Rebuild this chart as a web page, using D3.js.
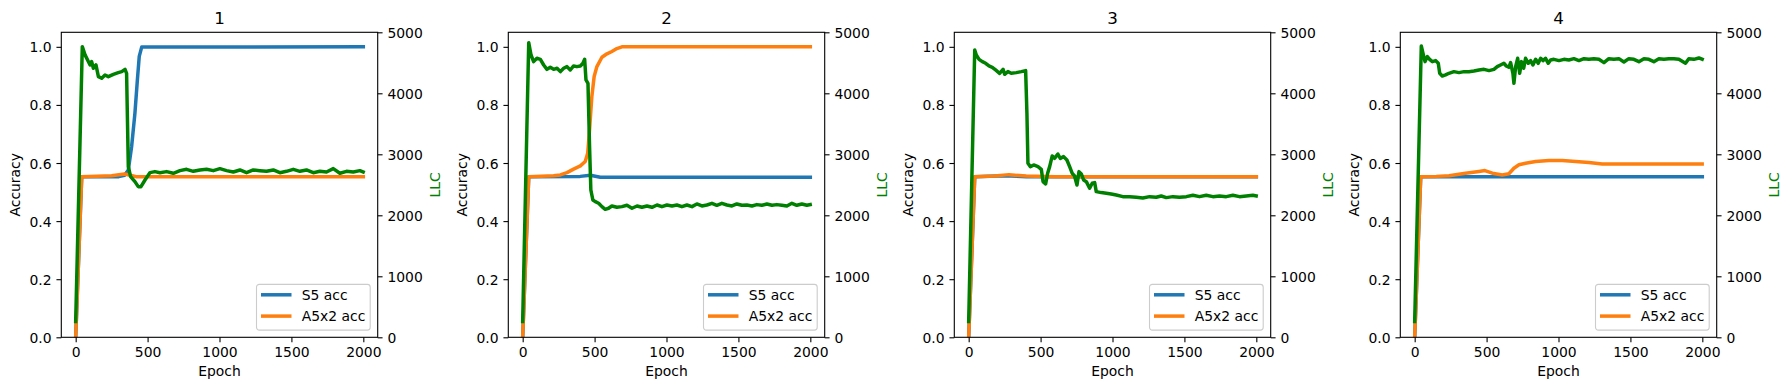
<!DOCTYPE html>
<html>
<head>
<meta charset="utf-8">
<script src="https://cdn.jsdelivr.net/npm/d3@7/dist/d3.min.js"></script>
<style>
  html, body { margin: 0; padding: 0; background: #fff; }
  svg { display: block; font-family: "DejaVu Sans", sans-serif; }
</style>
</head>
<body>
<svg id="chart" width="1790" height="390"></svg>
<script>
// ---------- data ----------
const panelTitles = ["1", "2", "3", "4"];
const epochTicks = [0, 500, 1000, 1500, 2000];
const accTicks = [0, 0.2, 0.4, 0.6, 0.8, 1.0];
const llcTicks = [0, 1000, 2000, 3000, 4000, 5000];
const seriesNames = ["S5 acc", "A5x2 acc"];

// Panel 1
const s5Acc1 = [[0,0],[42,0.553],[300,0.553],[340,0.558],[366,0.576],[389,0.657],[412,0.772],[429,0.886],[442,0.967],[459,0.999],[2000,1.0]];
const a5Acc1 = [[0,0],[42,0.553],[250,0.556],[340,0.562],[380,0.558],[420,0.553],[2000,0.553]];
const llc1 = [[0,260],[46,4765],[65,4630],[88,4520],[100,4465],[111,4520],[123,4410],[141,4465],[158,4273],[181,4246],[204,4300],[227,4273],[262,4311],[296,4339],[320,4355],[343,4393],[354,4328],[366,2798],[382,2634],[412,2552],[435,2470],[454,2470],[482,2579],[517,2700],[551,2716],[586,2699],[632,2716],[679,2689],[725,2732],[771,2754],[818,2721],[864,2743],[910,2754],[957,2732],[1003,2765],[1049,2732],[1096,2710],[1142,2743],[1188,2699],[1235,2743],[1281,2732],[1327,2721],[1374,2743],[1420,2699],[1466,2721],[1513,2754],[1559,2721],[1605,2743],[1652,2699],[1698,2721],[1744,2710],[1791,2765],[1837,2689],[1883,2721],[1930,2710],[1976,2732],[1999,2710]];

// Panel 2
const s5Acc2 = [[0,0],[42,0.553],[400,0.554],[470,0.558],[540,0.551],[2000,0.551]];
const a5Acc2 = [[0,0],[42,0.553],[215,0.556],[262,0.559],[308,0.567],[354,0.579],[401,0.590],[435,0.605],[452,0.634],[465,0.714],[481,0.829],[497,0.898],[516,0.932],[551,0.964],[586,0.976],[620,0.984],[655,0.994],[690,1.0],[2000,1.0]];
const llc2 = [[0,260],[42,4830],[58,4628],[76,4519],[99,4574],[123,4557],[146,4464],[169,4393],[192,4426],[215,4393],[239,4410],[262,4355],[285,4410],[308,4437],[331,4382],[354,4448],[377,4437],[401,4448],[419,4492],[431,4557],[440,4219],[454,4164],[465,3126],[474,2415],[488,2251],[505,2224],[528,2197],[551,2142],[574,2098],[597,2115],[620,2153],[655,2131],[690,2142],[725,2164],[760,2115],[795,2153],[829,2131],[864,2153],[899,2131],[934,2169],[968,2142],[1003,2169],[1038,2153],[1072,2169],[1107,2142],[1142,2169],[1177,2142],[1211,2186],[1246,2153],[1281,2169],[1316,2197],[1350,2164],[1385,2197],[1420,2169],[1455,2153],[1489,2186],[1524,2164],[1559,2169],[1594,2153],[1628,2175],[1663,2164],[1698,2186],[1733,2164],[1767,2175],[1802,2164],[1837,2153],[1872,2197],[1906,2164],[1941,2186],[1976,2164],[1999,2175]];

// Panel 3
const s5Acc3 = [[0,0],[42,0.553],[250,0.556],[400,0.553],[2000,0.553]];
const a5Acc3 = [[0,0],[42,0.553],[180,0.555],[280,0.560],[400,0.555],[600,0.553],[2000,0.553]];
const llc3 = [[0,260],[42,4710],[53,4628],[72,4557],[95,4519],[118,4492],[141,4448],[164,4426],[187,4383],[215,4328],[239,4393],[250,4311],[273,4355],[296,4328],[331,4339],[366,4355],[396,4372],[405,3672],[412,2852],[429,2798],[452,2825],[482,2798],[505,2754],[517,2552],[535,2514],[549,2689],[563,2798],[581,2973],[597,2934],[620,3005],[637,2934],[660,2962],[683,2907],[702,2798],[720,2689],[736,2645],[753,2497],[767,2716],[783,2678],[799,2579],[818,2552],[841,2443],[859,2525],[876,2536],[887,2388],[922,2372],[957,2361],[991,2350],[1026,2333],[1072,2306],[1119,2306],[1165,2295],[1211,2284],[1258,2306],[1304,2295],[1339,2317],[1374,2290],[1420,2306],[1466,2295],[1513,2306],[1559,2328],[1605,2306],[1652,2328],[1698,2306],[1744,2317],[1791,2306],[1837,2328],[1883,2306],[1930,2317],[1976,2328],[1999,2317]];

// Panel 4
const s5Acc4 = [[0,0],[42,0.553],[2000,0.553]];
const a5Acc4 = [[0,0],[42,0.553],[150,0.554],[239,0.556],[354,0.565],[447,0.571],[488,0.574],[540,0.565],[609,0.559],[655,0.563],[690,0.582],[725,0.594],[771,0.599],[841,0.605],[933,0.609],[1026,0.609],[1119,0.605],[1211,0.602],[1304,0.597],[1513,0.597],[1744,0.597],[1999,0.597]];
const llc4 = [[0,260],[46,4776],[58,4656],[72,4519],[88,4601],[104,4557],[123,4519],[146,4536],[164,4492],[174,4328],[192,4284],[215,4301],[238,4328],[273,4355],[308,4339],[343,4355],[377,4355],[412,4366],[447,4383],[482,4393],[517,4372],[551,4393],[574,4437],[597,4464],[620,4492],[637,4448],[655,4426],[667,4503],[683,4328],[690,4164],[702,4437],[716,4574],[730,4328],[743,4519],[758,4410],[771,4574],[790,4492],[806,4536],[822,4464],[841,4557],[859,4492],[876,4574],[892,4536],[910,4574],[929,4492],[945,4546],[968,4557],[1003,4536],[1038,4557],[1072,4546],[1107,4568],[1142,4536],[1177,4568],[1211,4557],[1246,4568],[1281,4557],[1316,4503],[1350,4568],[1385,4557],[1420,4568],[1455,4514],[1489,4568],[1524,4557],[1559,4519],[1594,4568],[1628,4557],[1663,4519],[1698,4568],[1733,4557],[1767,4568],[1802,4568],[1837,4557],[1883,4492],[1906,4568],[1941,4557],[1976,4579],[1999,4557]];

const panels = [
  { title: panelTitles[0], s5: s5Acc1, a5: a5Acc1, llc: llc1 },
  { title: panelTitles[1], s5: s5Acc2, a5: a5Acc2, llc: llc2 },
  { title: panelTitles[2], s5: s5Acc3, a5: a5Acc3, llc: llc3 },
  { title: panelTitles[3], s5: s5Acc4, a5: a5Acc4, llc: llc4 }
];

// ---------- layout / style ----------
const panelLefts = [61.3, 508.3, 954.3, 1400.3];
const W = 316.4, H = 305, TOP = 32.3;
const FS = 13.9, TFS = 16.7;
const TICK = 4.86, PAD = 4.86, LW = 3.5, SPINE = 1.1;
const COL_S5 = "#1f77b4", COL_A5 = "#ff7f0e", COL_LLC = "#008000";

const svg = d3.select("#chart");

panels.forEach((p, i) => {
  const g = svg.append("g").attr("transform", `translate(${panelLefts[i]},${TOP})`);
  const x = d3.scaleLinear().domain([-100, 2100]).range([0, W]);
  const yAcc = d3.scaleLinear().domain([0, 1.05]).range([H, 0]);
  const yLlc = d3.scaleLinear().domain([0, 5000]).range([H, 0]);

  const clipId = "clip" + i;
  g.append("clipPath").attr("id", clipId).append("rect").attr("width", W).attr("height", H);

  const lineAcc = d3.line().x(d => x(d[0])).y(d => yAcc(d[1]));
  const lineLlc = d3.line().x(d => x(d[0])).y(d => yLlc(d[1]));

  const plot = g.append("g").attr("clip-path", `url(#${clipId})`);
  plot.append("path").attr("d", lineAcc(p.s5)).attr("fill", "none")
    .attr("stroke", COL_S5).attr("stroke-width", LW).attr("stroke-linejoin", "round").attr("stroke-linecap", "square");
  plot.append("path").attr("d", lineAcc(p.a5)).attr("fill", "none")
    .attr("stroke", COL_A5).attr("stroke-width", LW).attr("stroke-linejoin", "round").attr("stroke-linecap", "square");
  plot.append("path").attr("d", lineLlc(p.llc)).attr("fill", "none")
    .attr("stroke", COL_LLC).attr("stroke-width", LW).attr("stroke-linejoin", "round").attr("stroke-linecap", "square");

  // axes
  const styleAxis = sel => {
    sel.selectAll(".domain").remove();
    sel.selectAll(".tick line").attr("stroke", "#000").attr("stroke-width", SPINE);
    sel.selectAll(".tick text").attr("fill", "#000").attr("font-size", FS).attr("font-family", "DejaVu Sans");
  };
  const gx = g.append("g").attr("transform", `translate(0,${H})`)
    .call(d3.axisBottom(x).tickValues(epochTicks).tickFormat(d3.format("d")).tickSize(TICK).tickPadding(PAD));
  styleAxis(gx);
  gx.selectAll(".tick text").attr("dy", "0.73em");

  const gyl = g.append("g")
    .call(d3.axisLeft(yAcc).tickValues(accTicks).tickFormat(d3.format(".1f")).tickSize(TICK).tickPadding(PAD));
  styleAxis(gyl);
  gyl.selectAll(".tick text").attr("dy", "0.36em");

  const gyr = g.append("g").attr("transform", `translate(${W},0)`)
    .call(d3.axisRight(yLlc).tickValues(llcTicks).tickFormat(d3.format("d")).tickSize(TICK).tickPadding(PAD));
  styleAxis(gyr);
  gyr.selectAll(".tick text").attr("dy", "0.36em");

  // frame
  g.append("rect").attr("width", W).attr("height", H).attr("fill", "none")
    .attr("stroke", "#000").attr("stroke-width", SPINE);

  // labels
  g.append("text").attr("x", W / 2).attr("y", -8.3).attr("text-anchor", "middle")
    .attr("font-size", TFS).attr("fill", "#000").text(p.title);
  g.append("text").attr("x", W / 2).attr("y", 376 - TOP).attr("text-anchor", "middle")
    .attr("font-size", FS).attr("fill", "#000").text("Epoch");
  g.append("text").attr("transform", `translate(-41.5,${H / 2}) rotate(-90)`).attr("text-anchor", "middle")
    .attr("font-size", FS).attr("fill", "#000").text("Accuracy");
  g.append("text").attr("transform", `translate(${W + 62.5},${H / 2}) rotate(-90)`).attr("text-anchor", "middle")
    .attr("font-size", FS).attr("fill", COL_LLC).text("LLC");

  // legend
  const lw = 113.7, lh = 45.7;
  const lg = g.append("g").attr("transform", `translate(${W - 7.5 - lw},${H - 7.2 - lh})`);
  lg.append("rect").attr("width", lw).attr("height", lh).attr("rx", 2.8).attr("ry", 2.8)
    .attr("fill", "#fff").attr("fill-opacity", 0.8).attr("stroke", "#cccccc").attr("stroke-width", 1.1);
  const legendCols = [COL_S5, COL_A5];
  seriesNames.forEach((name, k) => {
    const cy = 10.4 + k * 21.3;
    lg.append("line").attr("x1", 4.5).attr("x2", 35).attr("y1", cy).attr("y2", cy)
      .attr("stroke", legendCols[k]).attr("stroke-width", LW);
    lg.append("text").attr("x", 45.2).attr("y", cy).attr("dy", "0.36em")
      .attr("font-size", FS).attr("fill", "#000").text(name);
  });
});
</script>
</body>
</html>
